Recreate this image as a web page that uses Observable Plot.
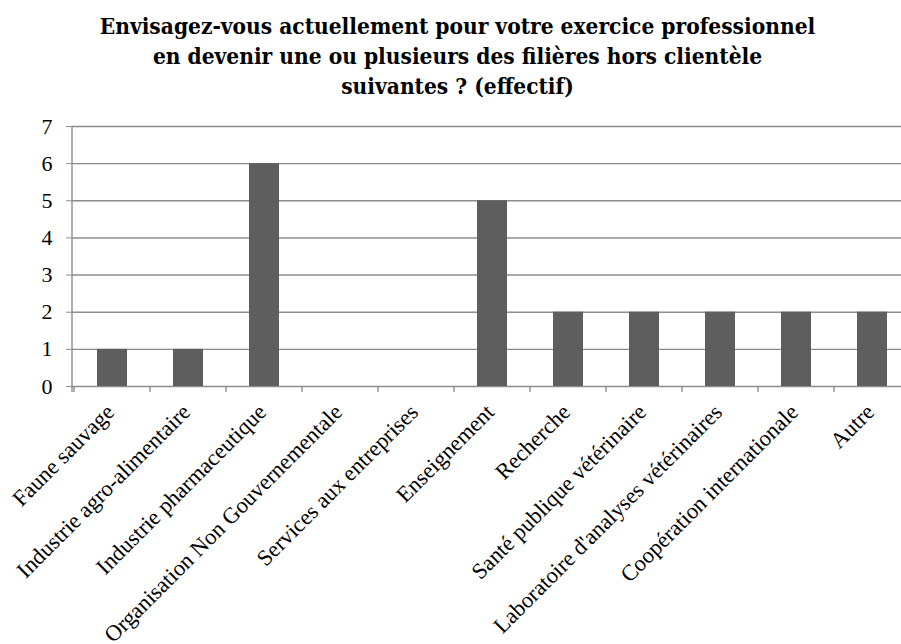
<!DOCTYPE html>
<html><head><meta charset="utf-8">
<script src="https://cdn.jsdelivr.net/npm/d3@7"></script>
<script src="https://cdn.jsdelivr.net/npm/@observablehq/plot@0.6"></script>
<style>
body{margin:0;background:#fff;width:901px;height:644px;overflow:hidden}
#title{box-sizing:border-box;height:110px;padding-top:11px;padding-left:14px;text-align:center;font-family:'DejaVu Serif Condensed','DejaVu Serif',serif;font-stretch:condensed;font-weight:bold;font-size:22.5px;line-height:30px;color:#000;white-space:nowrap}
</style></head><body>
<div id="title"></div>
<div id="chart"></div>
<script>
const titleLines = [
  "Envisagez-vous actuellement pour votre exercice professionnel",
  "en devenir une ou plusieurs des filières hors clientèle",
  "suivantes ? (effectif)"
];
const categories = [
  "Faune sauvage",
  "Industrie agro-alimentaire",
  "Industrie pharmaceutique",
  "Organisation Non Gouvernementale",
  "Services aux entreprises",
  "Enseignement",
  "Recherche",
  "Santé publique vétérinaire",
  "Laboratoire d'analyses vétérinaires",
  "Coopération internationale",
  "Autre"
];
const values = [1, 1, 6, 0, 0, 5, 2, 2, 2, 2, 2];
const yTicks = [0, 1, 2, 3, 4, 5, 6, 7];

const titleEl = document.getElementById("title");
titleLines.forEach((t, i) => {
  if (i) titleEl.appendChild(document.createElement("br"));
  titleEl.appendChild(document.createTextNode(t));
});

const data = categories.map((c, i) => ({category: c, value: values[i]}));
const gridColor = "#8c8c8c";

function axisLines(index, scales, vals, dims) {
  const {x, y} = scales;
  const step = typeof x.step === "function" ? x.step() : (x(categories[1]) - x(categories[0]));
  const bw = typeof x.bandwidth === "function" ? x.bandwidth() : step * 0.4;
  const y0 = y(0), yTop = y(yTicks[yTicks.length - 1]);
  const g = d3.create("svg:g").attr("stroke", gridColor).attr("stroke-width", 1.4);
  g.append("line").attr("x1", dims.marginLeft).attr("x2", dims.marginLeft).attr("y1", yTop).attr("y2", y0 + 6);
  const bounds = categories.map(c => x(c) + bw / 2 - step / 2);
  bounds.push(x(categories[categories.length - 1]) + bw / 2 + step / 2);
  bounds.forEach(bx => g.append("line").attr("x1", bx).attr("x2", bx).attr("y1", y0).attr("y2", y0 + 6));
  return g.node();
}

const chart = Plot.plot({
  width: 901,
  height: 534,
  marginTop: 16,
  marginBottom: 258,
  marginLeft: 72,
  marginRight: 0,
  x: {domain: categories, range: [72, 912], paddingInner: 0.6, paddingOuter: 0.3, axis: null},
  y: {domain: [0, 7]},
  style: {fontFamily: "'Liberation Serif', serif", fontSize: "23px", color: "black", background: "white"},
  marks: [
    Plot.ruleY(yTicks, {stroke: gridColor, strokeWidth: 1.4}),
    Plot.barY(data, {x: "category", y: "value", fill: "#5e5e5e"}),
    Plot.axisY({ticks: yTicks, tickSize: 6, tickPadding: 14, stroke: gridColor, fill: "black", fontSize: 22, tickFormat: d => String(d), label: null}),
    axisLines,
    Plot.text(categories, {x: d => d, frameAnchor: "bottom", rotate: -45, textAnchor: "end", dx: 3, dy: 27, fontSize: 22.5, fill: "black"})
  ]
});
document.getElementById("chart").appendChild(chart);
</script>
</body></html>
